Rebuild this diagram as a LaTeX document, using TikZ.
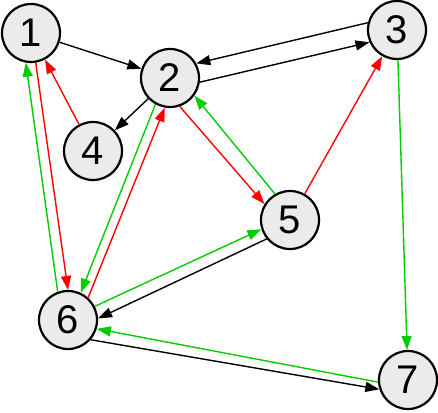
\documentclass[tikz,border=0pt]{standalone}
\usepackage{fontspec}
\setmainfont{Liberation Sans}
\usetikzlibrary{arrows.meta}
\definecolor{grn}{RGB}{0,204,0}
\definecolor{rd}{RGB}{255,0,0}

\begin{document}
\begin{tikzpicture}[x=1pt, y=-1pt,
  vtx/.style={circle, draw, line width=2.2pt, fill=black!8, minimum size=58pt, inner sep=0pt, font=\fontsize{40}{40}\selectfont},
  arr/.style={line width=1.4pt, -{Triangle[length=14pt, width=10pt]}},
  bk/.style={arr, black}, gr/.style={arr, grn}, re/.style={arr, rd}]
  \useasboundingbox (0,0) rectangle (438,412);
  \node[vtx] (n1) at (31,33) {1};
  \node[vtx] (n2) at (170,78) {2};
  \node[vtx] (n3) at (397,30) {3};
  \node[vtx] (n4) at (93,151) {4};
  \node[vtx] (n5) at (290,220) {5};
  \node[vtx] (n6) at (68,320) {6};
  \node[vtx] (n7) at (408,380) {7};
  % single edges
  \draw[bk] (n1) -- (n2);
  \draw[bk] (n2) -- (n4);
  \draw[re] (n4) -- (n1);
  \draw[re] (n5) -- (n3);
  \draw[gr] (n3) -- (n7);
  % paired edges
  \draw[bk] (n3.166) -- (n2.29);
  \draw[bk] (n2.-8) -- (n3.204);
  \draw[gr] (n6.110) -- (n1.-100);
  \draw[re] (n1.-81) -- (n6.90);
  \draw[gr] (n2.-119) -- (n6.65);
  \draw[re] (n6.48) -- (n2.-100);
  \draw[re] (n2.-71) -- (n5.148);
  \draw[gr] (n5.120) -- (n2.-36);
  \draw[gr] (n6.27) -- (n5.198);
  \draw[bk] (n5.219) -- (n6.3);
  \draw[gr] (n7.184) -- (n6.-17);
  \draw[bk] (n6.-41) -- (n7.198);
\end{tikzpicture}
\end{document}
